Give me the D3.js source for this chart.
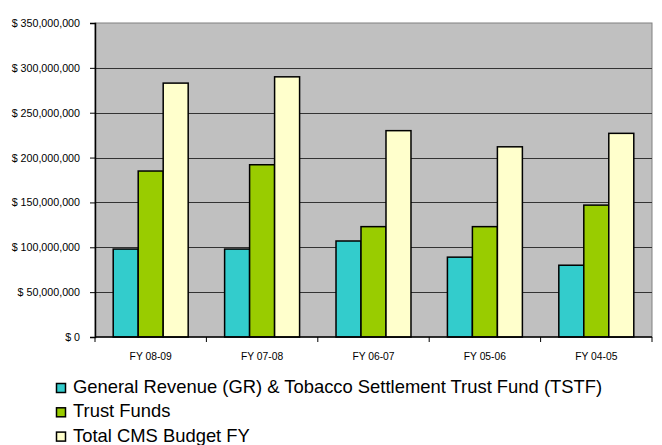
<!DOCTYPE html>
<html><head><meta charset="utf-8">
<script src="https://cdn.jsdelivr.net/npm/d3@7"></script>
<style>body{margin:0;background:#fff}svg{display:block}text{font-family:"Liberation Sans",Arial,sans-serif;fill:#000}</style>
</head><body>
<svg id="c" width="662" height="445"></svg>
<script>
const categories = ["FY 08-09","FY 07-08","FY 06-07","FY 05-06","FY 04-05"];
const seriesNames = ["General Revenue (GR) & Tobacco Settlement Trust Fund (TSTF)","Trust Funds","Total CMS Budget FY"];
const grTstf = [98000000, 98000000, 107000000, 89000000, 80000000];
const trustFunds = [185000000, 192000000, 123000000, 123000000, 147000000];
const totalBudget = [283000000, 290000000, 230000000, 212000000, 227000000];
const yTicks = [0,50000000,100000000,150000000,200000000,250000000,300000000,350000000];
const colors = ["#33cccc","#99cc00","#ffffcc"];
const series = [grTstf, trustFunds, totalBudget];

const svg = d3.select("#c");
const L=95, R=652, T=23, B=337;
const x0 = d3.scaleBand().domain(categories).range([L,R]).paddingInner(0.327).paddingOuter(0.1635);
const x1 = d3.scaleBand().domain([0,1,2]).range([0,x0.bandwidth()]);
const y = d3.scaleLinear().domain([0,350000000]).range([B,T]);

svg.append("rect").attr("x",L).attr("y",T).attr("width",R-L).attr("height",B-T)
  .attr("fill","#c0c0c0").attr("stroke","#808080").attr("stroke-width",1);

svg.append("g").selectAll("line").data(yTicks.slice(1,-1)).join("line")
  .attr("x1",L).attr("x2",R).attr("y1",d=>Math.round(y(d))+0.5).attr("y2",d=>Math.round(y(d))+0.5)
  .attr("stroke","#333").attr("stroke-width",1);

const fmt = d => "$ " + d3.format(",")(d);
const ya = svg.append("g").attr("transform",`translate(${L},0)`)
  .call(d3.axisLeft(y).tickValues(yTicks).tickFormat(fmt).tickSize(5).tickPadding(10));
ya.select(".domain").attr("stroke","#000").attr("stroke-width",1.5);
ya.selectAll("text").attr("font-size","10.7px").attr("font-family","Liberation Sans, Arial, sans-serif");

const g = svg.append("g");
categories.forEach((c,i)=>{
  series.forEach((s,j)=>{
    g.append("rect").attr("x",x0(c)+x1(j)).attr("width",x1.bandwidth())
      .attr("y",y(s[i])).attr("height",y(0)-y(s[i]))
      .attr("fill",colors[j]).attr("stroke","#000").attr("stroke-width",1.5);
  });
});

// x axis
const xa = svg.append("g").attr("transform",`translate(0,${B})`);
xa.append("line").attr("x1",L).attr("x2",R).attr("stroke","#000").attr("stroke-width",1.5);
const step = x0.step();
d3.range(categories.length+1).forEach(k=>{
  const xx = L + k*step;
  xa.append("line").attr("x1",xx).attr("x2",xx).attr("y1",0).attr("y2",5).attr("stroke","#000").attr("stroke-width",1);
});
xa.selectAll("text.cat").data(categories).join("text").attr("class","cat")
  .attr("x",d=>x0(d)+x0.bandwidth()/2).attr("y",23).attr("text-anchor","middle")
  .attr("font-size","10.3px").text(d=>d);

// legend
const lg = svg.append("g");
seriesNames.forEach((n,j)=>{
  const yy = 393 + j*24.3;
  lg.append("rect").attr("x",56.5).attr("y",yy-9.5).attr("width",9).attr("height",9)
    .attr("fill",colors[j]).attr("stroke","#000").attr("stroke-width",1.5);
  lg.append("text").attr("x",73).attr("y",yy).attr("font-size","18.4px").text(n);
});
</script>
</body></html>
